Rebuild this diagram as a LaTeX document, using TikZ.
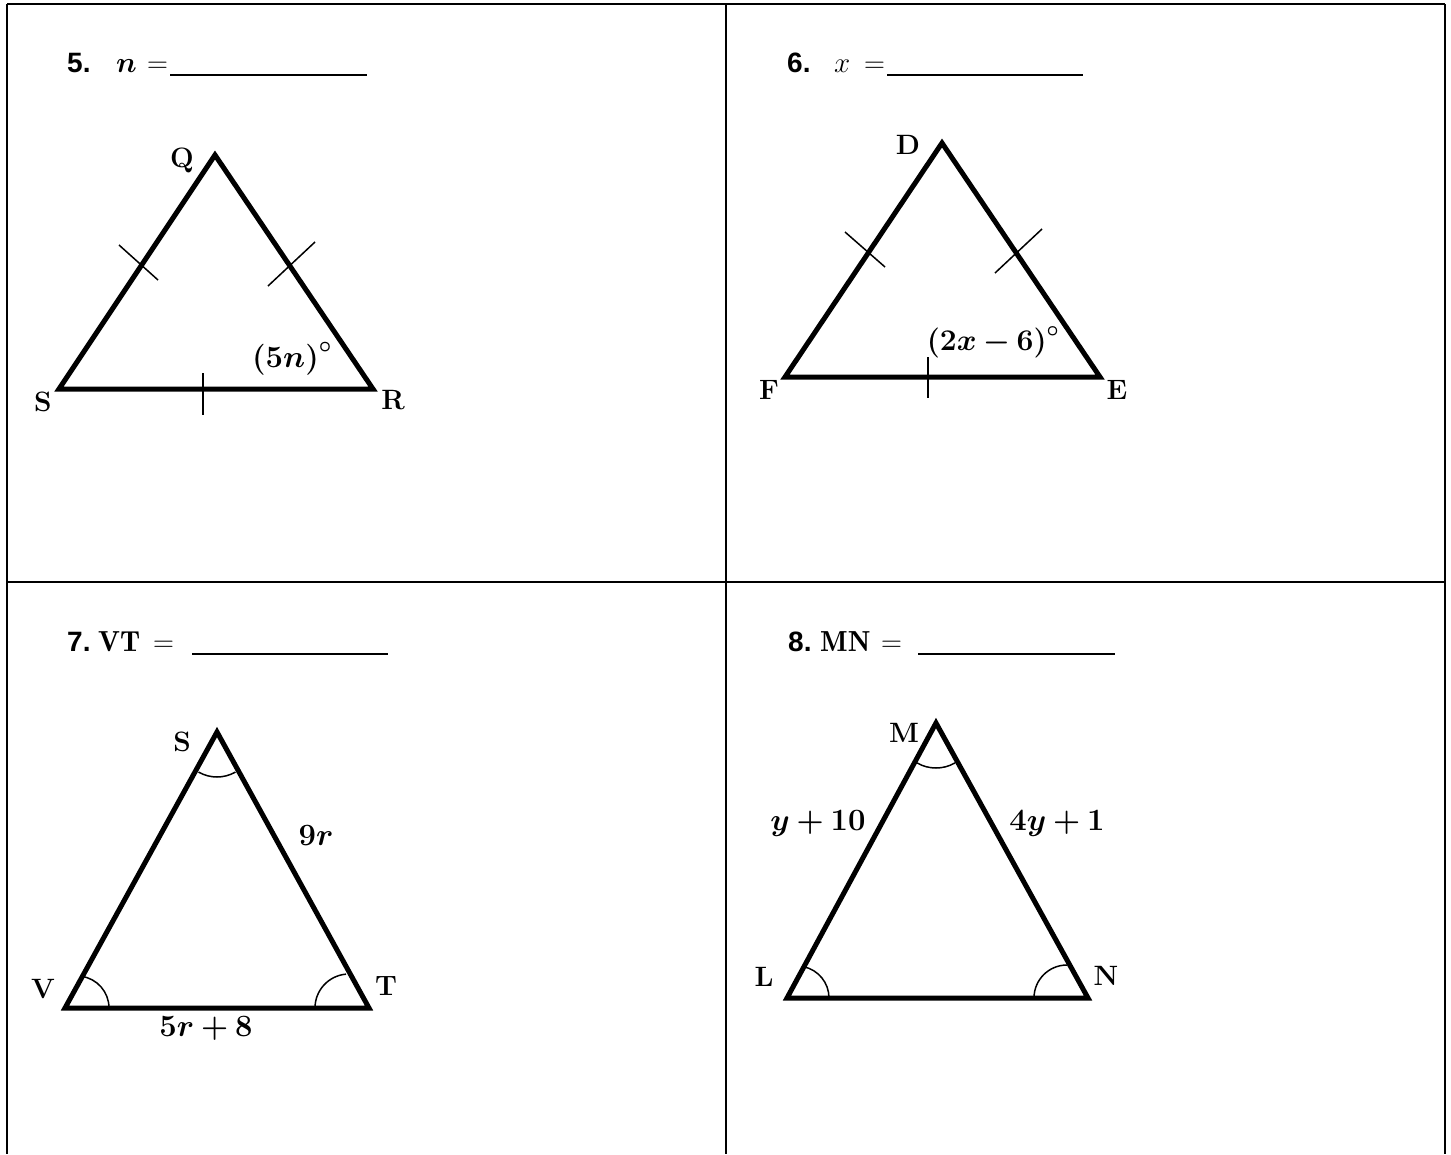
\RequirePackage{fix-cm}
\documentclass[tikz,border=0pt]{standalone}
\usepackage{fontspec}
\usepackage{bm}
\newfontfamily\hdrfont{Liberation Sans}
\tikzset{
  frame/.style={line width=2.5pt},
  tri/.style={line width=5pt, line join=miter},
  tick/.style={line width=1.5pt},
  angarc/.style={line width=1.5pt},
  lbl/.style={font=\fontsize{28}{30}\selectfont\bfseries, inner sep=0pt},
  mlbl/.style={font=\fontsize{31}{33}\selectfont\bfseries, inner sep=0pt},
  num/.style={font=\fontsize{28}{30}\selectfont\hdrfont\bfseries, inner sep=0pt, anchor=base west},
  hmath/.style={font=\fontsize{29}{31}\selectfont\bfseries, inner sep=0pt, anchor=base west},
  uline/.style={line width=1.2pt}
}
\begin{document}
\begin{tikzpicture}[x=1pt,y=-1pt]
\useasboundingbox (0,0) rectangle (1451,1154);
% frame
\draw[frame] (7,4) -- (1445,4);
\draw[frame] (7,4) -- (7,1154);
\draw[frame] (1445,4) -- (1445,1154);
\draw[frame] (726,4) -- (726,1154);
\draw[frame] (7,582) -- (1445,582);

% ---------- 5 ----------
\node[num] (h5) at (67,72) {5.};
\node[hmath] (h5v) at (116,72) {$\bm{n}$};
\node[hmath] (h5e) at (147,72) {$=$};
\draw[uline] (170,75) -- (367,75);
\coordinate (Q) at (215,155);
\coordinate (S5) at (59,389);
\coordinate (R) at (373,389);
\draw[tri] (Q) -- (R) -- (S5) -- cycle;
\draw[tick] (119,245) -- (158,280);
\draw[tick] (315,242) -- (268,286);
\draw[tick] (203,373) -- (203,415);
\node[lbl] (lQ) at (182,160) {Q};
\node[lbl] (lS5) at (43,402) {S};
\node[lbl] (lR) at (393,400) {R};
\node[mlbl] (a5) at (292,359) {$\bm{(5n)^\circ}$};

% ---------- 6 ----------
\node[num] (h6) at (787,72) {6.};
\node[hmath] (h6v) at (834,72) {$x$};
\node[hmath] (h6e) at (864,72) {$=$};
\draw[uline] (887,75) -- (1083,75);
\coordinate (D) at (942,143);
\coordinate (F) at (785,377);
\coordinate (E) at (1100,377);
\draw[tri] (D) -- (E) -- (F) -- cycle;
\draw[tick] (845,232) -- (885,267);
\draw[tick] (1042,229) -- (995,273);
\draw[tick] (928,357) -- (928,398);
\node[lbl] (lD) at (908,145) {D};
\node[lbl] (lF) at (769,390) {F};
\node[lbl] (lE) at (1117,390) {E};
\node[mlbl, font=\fontsize{30}{32}\selectfont\bfseries] (a6) at (993,342) {$\bm{(2x-6)^\circ}$};

% ---------- 7 ----------
\node[num] (h7) at (67,651) {7.};
\node[hmath] (h7v) at (98,651) {$\mathbf{VT}$};
\node[hmath] (h7e) at (153,651) {$=$};
\draw[uline] (192,654) -- (388,654);
\coordinate (S7) at (217,732);
\coordinate (V) at (65,1008);
\coordinate (T) at (369,1008);
\draw[tri] (S7) -- (T) -- (V) -- cycle;
\draw[angarc] ([shift={(240:37pt)}]217,740) arc[start angle=240, end angle=300, radius=37pt];
\draw[angarc] (109,1008) arc[start angle=0, end angle=82, radius=32pt];
\draw[angarc] (315,1008) arc[start angle=180, end angle=95, radius=34pt];
\node[lbl] (lS7) at (182,742) {S};
\node[lbl] (lV) at (43,989) {V};
\node[lbl] (lT) at (386,986) {T};
\node[mlbl] (s7a) at (316,835) {$\bm{9r}$};
\node[mlbl] (s7b) at (206,1028) {$\bm{5r+8}$};

% ---------- 8 ----------
\node[num] (h8) at (788,651) {8.};
\node[hmath] (h8v) at (820,651) {$\mathbf{MN}$};
\node[hmath] (h8e) at (881,651) {$=$};
\draw[uline] (918,654) -- (1115,654);
\coordinate (M) at (936,723);
\coordinate (L) at (787,998);
\coordinate (N) at (1088,998);
\draw[tri] (M) -- (N) -- (L) -- cycle;
\draw[angarc] ([shift={(240:38pt)}]936,730) arc[start angle=240, end angle=300, radius=38pt];
\draw[angarc] (829,998) arc[start angle=0, end angle=78, radius=32pt];
\draw[angarc] (1034,998) arc[start angle=180, end angle=90, radius=33pt];
\node[lbl] (lM) at (904,733) {M};
\node[lbl] (lL) at (764,977) {L};
\node[lbl] (lN) at (1106,976) {N};
\node[mlbl] (s8a) at (818,824) {$\bm{y+10}$};
\node[mlbl] (s8b) at (1057,824) {$\bm{4y+1}$};
\end{tikzpicture}
\end{document}
